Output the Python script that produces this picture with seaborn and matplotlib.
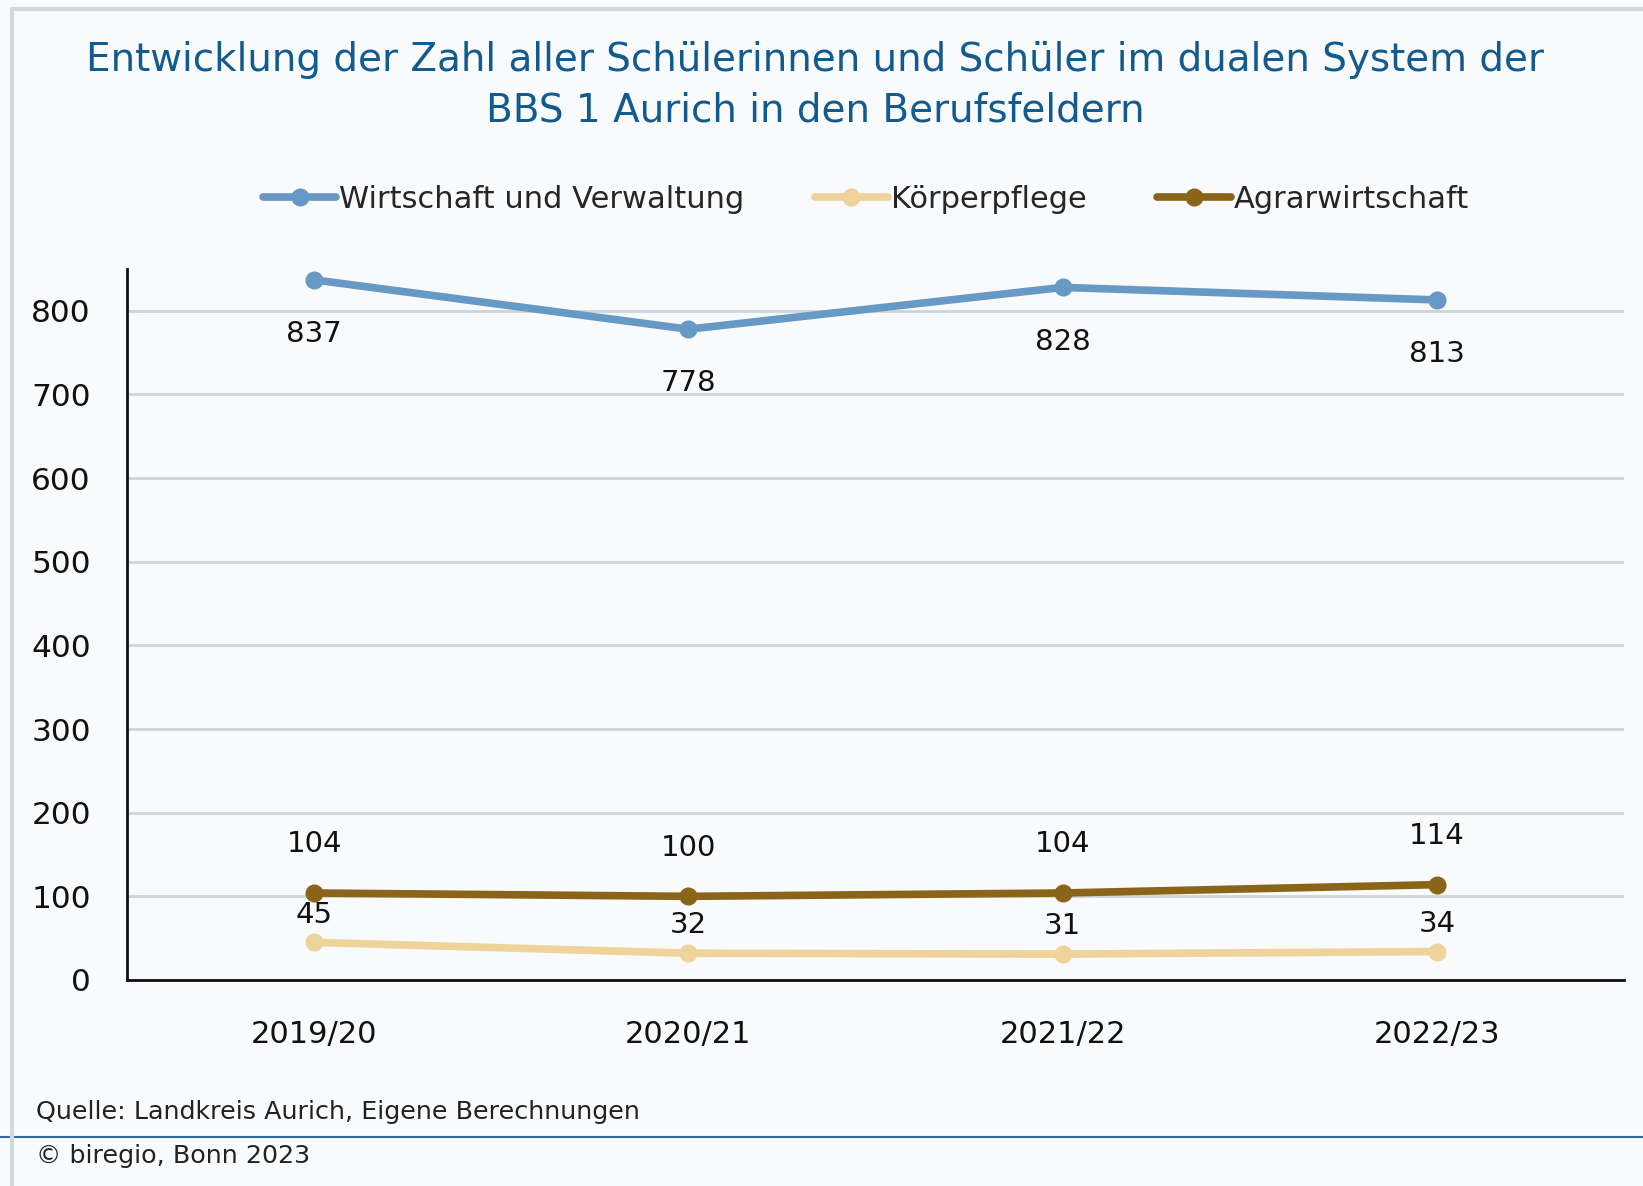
import pandas as pd
import numpy as np
import matplotlib.pyplot as plt
import seaborn as sns
from matplotlib.lines import Line2D

# ==================================================
# DATA
# ==================================================

years = ["2019/20", "2020/21", "2021/22", "2022/23"]
series_names = ["Wirtschaft und Verwaltung", "Körperpflege", "Agrarwirtschaft"]
wirtschaft = [837, 778, 828, 813]
koerperpflege = [45, 32, 31, 34]
agrar = [104, 100, 104, 114]

colors = {
    "Wirtschaft und Verwaltung": "#6699c3",
    "Körperpflege": "#eed39b",
    "Agrarwirtschaft": "#8a6419",
}
label_offsets = {
    "Wirtschaft und Verwaltung": -39,
    "Körperpflege": 20,
    "Agrarwirtschaft": 35,
}

df = pd.DataFrame({
    "Jahr": years * 3,
    "Berufsfeld": np.repeat(series_names, len(years)),
    "Anzahl": wirtschaft + koerperpflege + agrar,
})
df["x"] = df["Jahr"].map({y: i for i, y in enumerate(years)})

# ==================================================
# SETTINGS
# ==================================================

sns.set_style("white")
plt.rcParams["font.family"] = ["DejaVu Sans"]

bg = "#f8fafc"

fig = plt.figure(figsize=(16.43, 11.86), dpi=100, facecolor=bg)
ax = fig.add_axes([0.0773, 0.1737, 0.9111, 0.5995], facecolor=bg)

# ==================================================
# PLOT
# ==================================================

sns.lineplot(
    data=df,
    x="x",
    y="Anzahl",
    hue="Berufsfeld",
    hue_order=series_names,
    palette=colors,
    marker="o",
    markersize=13,
    markeredgewidth=0,
    linewidth=5.5,
    legend=False,
    ax=ax,
    zorder=3,
)

for _, row in df.iterrows():
    off = label_offsets[row["Berufsfeld"]]
    ax.annotate(
        str(row["Anzahl"]),
        (row["x"], row["Anzahl"]),
        xytext=(0, off),
        textcoords="offset points",
        ha="center",
        va="center",
        fontsize=21,
        color="#111111",
        zorder=4,
    )

ax.set_xlim(-0.5, len(years) - 0.5)
ax.set_ylim(0, 850)
ax.set_yticks(range(0, 900, 100))
ax.set_xticks(range(len(years)))
ax.set_xticklabels(years)
ax.set_xticks(np.arange(0.5, len(years), 1), minor=True)
ax.set_xlabel("")
ax.set_ylabel("")

ax.yaxis.grid(True, color="#c9d5dd", linewidth=2, zorder=0)
ax.set_axisbelow(True)

for side in ["top", "right"]:
    ax.spines[side].set_visible(False)
for side in ["left", "bottom"]:
    ax.spines[side].set_color("#111111")
    ax.spines[side].set_linewidth(2)

ax.tick_params(axis="y", direction="in", length=8, width=2,
               labelsize=22.5, pad=26, colors="#111111")
ax.tick_params(axis="x", which="major", length=0, labelsize=22, pad=29,
               labelcolor="#111111")
ax.tick_params(axis="x", which="minor", direction="in", length=12,
               width=2, color="#111111")

# ==================================================
# TITLE / LEGEND / FOOTER
# ==================================================

fig.text(
    0.496, 0.928,
    "Entwicklung der Zahl aller Schülerinnen und Schüler im dualen System der\n"
    "BBS 1 Aurich in den Berufsfeldern",
    ha="center", va="center", fontsize=28, color="#135b8e",
    linespacing=1.4,
)

handles = [
    Line2D([0], [0], color=colors[n], linewidth=5.5, marker="o",
           markersize=13, markeredgewidth=0)
    for n in series_names
]
fig.legend(
    handles, series_names,
    loc="center", bbox_to_anchor=(0.527, 0.832), ncol=3,
    frameon=False, fontsize=22, handlelength=2.4,
    handletextpad=0.1, columnspacing=2.3,
)

fig.text(0.022, 0.062, "Quelle: Landkreis Aurich, Eigene Berechnungen",
         fontsize=18.3, color="#222222", va="center")
fig.text(0.022, 0.025, "© biregio, Bonn 2023",
         fontsize=18.3, color="#222222", va="center")

fig.add_artist(Line2D([0, 1], [0.0413, 0.0413], color="#2f6a9a",
                      linewidth=1.5, transform=fig.transFigure))
fig.add_artist(Line2D([0.0075, 0.0075], [0, 0.992], color="#d5d8db",
                      linewidth=3, transform=fig.transFigure))
fig.add_artist(Line2D([0.0075, 1], [0.992, 0.992], color="#d5d8db",
                      linewidth=3, transform=fig.transFigure))

fig.savefig("out.png", dpi=100, facecolor=bg)
